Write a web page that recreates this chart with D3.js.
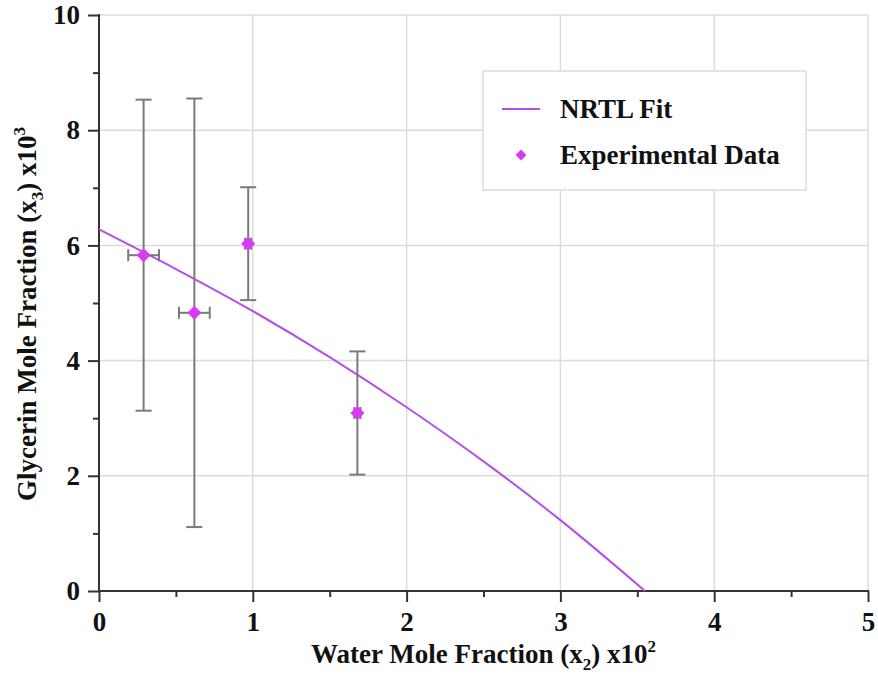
<!DOCTYPE html>
<meta charset="utf-8">
<style>
  body { margin: 0; background: #fff; }
  text { font-family: "Liberation Serif", "DejaVu Serif", serif; font-weight: bold; fill: #111; }
</style>
<div id="chart"></div>
<script src="https://cdn.jsdelivr.net/npm/d3@7"></script>
<script>

// experimental points (x2 x10^2, x3 x10^3) with error bars
var expX    = [0.29, 0.62, 0.97, 1.68];
var expY    = [5.83, 4.83, 6.03, 3.09];
var expXErr = [0.10, 0.10, 0.02, 0.02];
var expYErr = [2.70, 3.72, 0.98, 1.07];

// NRTL fit curve
var fitX = [0, 0.5, 1, 1.5, 2, 2.5, 3, 3.55];
var fitY = [6.28, 5.59, 4.86, 4.06, 3.19, 2.25, 1.23, 0];

var xTicks = [0, 1, 2, 3, 4, 5];
var yTicks = [0, 2, 4, 6, 8, 10];

var width = 878, height = 678;
var margin = {top: 15, right: 10, bottom: 87, left: 99};

var svg = d3.select("#chart").append("svg")
    .attr("width", width)
    .attr("height", height);

var x = d3.scaleLinear().domain([0, 5]).range([margin.left, 868]);
var y = d3.scaleLinear().domain([0, 10]).range([591, margin.top]);

// grid
svg.append("g").selectAll("line")
  .data(xTicks.slice(1))
  .enter().append("line")
    .attr("x1", x).attr("x2", x)
    .attr("y1", y(0)).attr("y2", y(10))
    .attr("stroke", "#dcdcdc").attr("stroke-width", 1.5);

svg.append("g").selectAll("line")
  .data(yTicks.slice(1))
  .enter().append("line")
    .attr("x1", x(0)).attr("x2", x(5))
    .attr("y1", y).attr("y2", y)
    .attr("stroke", "#dcdcdc").attr("stroke-width", 1.5);

// axes
var xAxis = svg.append("g")
    .attr("transform", "translate(0," + y(0) + ")")
    .call(d3.axisBottom(x).tickValues(xTicks).tickSize(11).tickPadding(10).tickFormat(d3.format("d")));
var xMinor = svg.append("g")
    .attr("transform", "translate(0," + y(0) + ")")
    .call(d3.axisBottom(x).tickValues([0.5, 1.5, 2.5, 3.5, 4.5]).tickSize(6).tickFormat(""));

var yAxis = svg.append("g")
    .attr("transform", "translate(" + x(0) + ",0)")
    .call(d3.axisLeft(y).tickValues(yTicks).tickSize(11).tickPadding(8).tickFormat(d3.format("d")));
var yMinor = svg.append("g")
    .attr("transform", "translate(" + x(0) + ",0)")
    .call(d3.axisLeft(y).tickValues([1, 3, 5, 7, 9]).tickSize(6).tickFormat(""));

[xAxis, xMinor, yAxis, yMinor].forEach(function(a) {
  a.select(".domain").remove();
  a.selectAll(".tick line").attr("stroke", "#333").attr("stroke-width", 2);
  a.selectAll(".tick text").style("font-size", "27px").attr("fill", "#111");
});

svg.append("line")
    .attr("x1", x(0) - 1).attr("x2", x(5) + 1)
    .attr("y1", y(0)).attr("y2", y(0))
    .attr("stroke", "#333").attr("stroke-width", 2);
svg.append("line")
    .attr("x1", x(0)).attr("x2", x(0))
    .attr("y1", y(0)).attr("y2", y(10) - 1)
    .attr("stroke", "#333").attr("stroke-width", 2);

// fit line
var fitData = fitX.map(function(d, i) { return [d, fitY[i]]; });
svg.append("path")
    .datum(fitData)
    .attr("fill", "none")
    .attr("stroke", "#b54fe6")
    .attr("stroke-width", 2)
    .attr("d", d3.line()
        .curve(d3.curveMonotoneX)
        .x(function(d) { return x(d[0]); })
        .y(function(d) { return y(d[1]); }));

// error bars
var pts = expX.map(function(d, i) {
  return {x: d, y: expY[i], ex: expXErr[i], ey: expYErr[i]};
});

var eb = svg.append("g")
    .attr("stroke", "#7a7a7a")
    .attr("stroke-width", 2)
    .selectAll("g")
    .data(pts)
    .enter().append("g");

eb.append("line")
    .attr("x1", function(d) { return x(d.x); })
    .attr("x2", function(d) { return x(d.x); })
    .attr("y1", function(d) { return y(d.y - d.ey); })
    .attr("y2", function(d) { return y(d.y + d.ey); });
eb.append("line")
    .attr("x1", function(d) { return x(d.x) - 8; })
    .attr("x2", function(d) { return x(d.x) + 8; })
    .attr("y1", function(d) { return y(d.y - d.ey); })
    .attr("y2", function(d) { return y(d.y - d.ey); });
eb.append("line")
    .attr("x1", function(d) { return x(d.x) - 8; })
    .attr("x2", function(d) { return x(d.x) + 8; })
    .attr("y1", function(d) { return y(d.y + d.ey); })
    .attr("y2", function(d) { return y(d.y + d.ey); });
eb.append("line")
    .attr("x1", function(d) { return x(d.x - d.ex); })
    .attr("x2", function(d) { return x(d.x + d.ex); })
    .attr("y1", function(d) { return y(d.y); })
    .attr("y2", function(d) { return y(d.y); });
eb.append("line")
    .attr("x1", function(d) { return x(d.x - d.ex); })
    .attr("x2", function(d) { return x(d.x - d.ex); })
    .attr("y1", function(d) { return y(d.y) - 6; })
    .attr("y2", function(d) { return y(d.y) + 6; });
eb.append("line")
    .attr("x1", function(d) { return x(d.x + d.ex); })
    .attr("x2", function(d) { return x(d.x + d.ex); })
    .attr("y1", function(d) { return y(d.y) - 6; })
    .attr("y2", function(d) { return y(d.y) + 6; });

// markers
var diamond = d3.symbol().type(d3.symbolSquare).size(100);
svg.append("g").selectAll("path")
  .data(pts)
  .enter().append("path")
    .attr("d", diamond)
    .attr("fill", "#d93bf5")
    .attr("transform", function(d) { return "translate(" + x(d.x) + "," + y(d.y) + ")rotate(45)"; });

// axis titles
var xt = svg.append("text")
    .attr("x", (x(0) + x(5)) / 2)
    .attr("y", 663)
    .attr("text-anchor", "middle")
    .style("font-size", "27px");
xt.append("tspan").text("Water Mole Fraction (x");
xt.append("tspan").attr("dy", 7).style("font-size", "17px").text("2");
xt.append("tspan").attr("dy", -7).text(") x10");
xt.append("tspan").attr("dy", -11).style("font-size", "17px").text("2");

var yt = svg.append("text")
    .attr("transform", "translate(36," + 314 + ")rotate(-90)")
    .attr("text-anchor", "middle")
    .style("font-size", "27px");
yt.append("tspan").text("Glycerin Mole Fraction (x");
yt.append("tspan").attr("dy", 7).style("font-size", "17px").text("3");
yt.append("tspan").attr("dy", -7).text(") x10");
yt.append("tspan").attr("dy", -11).style("font-size", "17px").text("3");

// legend
var legend = svg.append("g").attr("transform", "translate(483,71)");
legend.append("rect")
    .attr("width", 323).attr("height", 119)
    .attr("fill", "#fff")
    .attr("stroke", "#dcdcdc").attr("stroke-width", 1.5);
legend.append("line")
    .attr("x1", 19).attr("x2", 57)
    .attr("y1", 38).attr("y2", 38)
    .attr("stroke", "#b54fe6").attr("stroke-width", 2);
legend.append("path")
    .attr("d", d3.symbol().type(d3.symbolSquare).size(60))
    .attr("fill", "#d93bf5")
    .attr("transform", "translate(38,84)rotate(45)");
legend.append("text")
    .attr("x", 77).attr("y", 47)
    .style("font-size", "27px")
    .text("NRTL Fit");
legend.append("text")
    .attr("x", 77).attr("y", 93)
    .style("font-size", "27px")
    .text("Experimental Data");

</script>
